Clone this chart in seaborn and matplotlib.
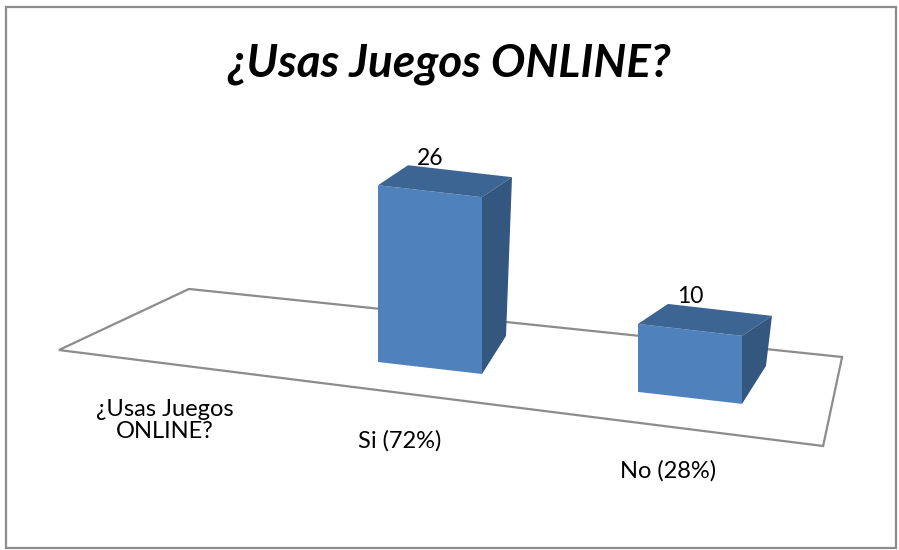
import matplotlib
matplotlib.use("Agg")
import numpy as np
import matplotlib.pyplot as plt
from matplotlib.transforms import Affine2D, IdentityTransform
from matplotlib.patches import Polygon, Rectangle
import seaborn as sns

# data
categories = ["¿Usas Juegos\nONLINE?", "Si (72%)", "No (28%)"]
bar_categories = ["Si (72%)", "No (28%)"]
bar_values = [26, 10]
title = "¿Usas Juegos ONLINE?"

W, H, DPI = 899, 550, 100
SLOPE = 0.115          # the floor runs downhill to the right
X0 = 430               # shear pivot (px)
DEPTH_TOP = np.array([30, 20])   # depth of the boxes, px
DEPTH_BOT = np.array([24, 38])
FRONT = "#4F81BD"
TOP = "#3D6593"
SIDE = "#34577F"
GRID = "#8c8c8c"

sns.set_theme(style="white")
plt.rcParams["font.family"] = ["Lato", "DejaVu Sans"]
plt.rcParams["text.color"] = "black"

fig = plt.figure(figsize=(W / DPI, H / DPI), dpi=DPI)
ax = fig.add_axes([40 / W, 182 / H, 780 / W, 272 / H])
sns.barplot(x=bar_categories, y=bar_values, order=categories, color=FRONT,
            width=0.4, saturation=1, ax=ax, zorder=3)
ax.set_xlim(-0.5, 2.5)
ax.set_ylim(0, 40)
ax.axis("off")

# fake perspective: shear everything in pixel space
shear = Affine2D().from_values(1, -SLOPE, 0, 1, 0, SLOPE * X0)
T = ax.transData + shear
ID = IdentityTransform()

# floor (data x, pixel offset from baseline)
floor_x = [-0.427, 0.073, 2.585, 2.512]
floor_dy = [-24.7, 51.3, 58.4, -32.8]
floor = [T.transform((x, 0)) + np.array([0, dy]) for x, dy in zip(floor_x, floor_dy)]
ax.add_patch(Polygon(floor, closed=True, facecolor="white", edgecolor=GRID,
                     lw=1.6, transform=ID, clip_on=False, zorder=1))

for p, v in zip([p for p in ax.patches if isinstance(p, Rectangle)], bar_values):
    x, w, h = p.get_x(), p.get_width(), p.get_height()
    p.set_transform(T)
    p.set_linewidth(0)
    p.set_clip_on(False)
    fl, fr = T.transform((x, 0)), T.transform((x + w, 0))
    tl, tr = T.transform((x, h)), T.transform((x + w, h))
    ax.add_patch(Polygon([tl, tr, tr + DEPTH_TOP, tl + DEPTH_TOP], facecolor=TOP,
                         lw=0, transform=ID, clip_on=False, zorder=3))
    ax.add_patch(Polygon([tr, fr, fr + DEPTH_BOT, tr + DEPTH_TOP], facecolor=SIDE,
                         lw=0, transform=ID, clip_on=False, zorder=3))
    lx, ly = T.transform((x + w / 2, h)) + np.array([0, 33])
    ax.text(lx, ly, str(v), transform=ID, ha="center", va="center",
            fontsize=16.5, color="black", zorder=5)

# category labels along the front edge
lab_dx = [-5, -30, -22]
lab_dy = [-82, -73, -73]
for i, lab in enumerate(categories):
    lx, ly = T.transform((i, 0)) + np.array([lab_dx[i], lab_dy[i]])
    ax.text(lx, ly, lab, transform=ID, ha="center", va="center",
            fontsize=17, color="black", linespacing=1.05)

fig.text(0.5, 1 - 64 / H, title, ha="center", va="center", fontsize=33,
         fontweight="bold", fontstyle="italic", color="black")

fig.add_artist(Rectangle((6, 2), 890, 541, transform=ID, fill=False,
                         edgecolor=GRID, lw=1.6))

fig.savefig("out.png", dpi=DPI)
